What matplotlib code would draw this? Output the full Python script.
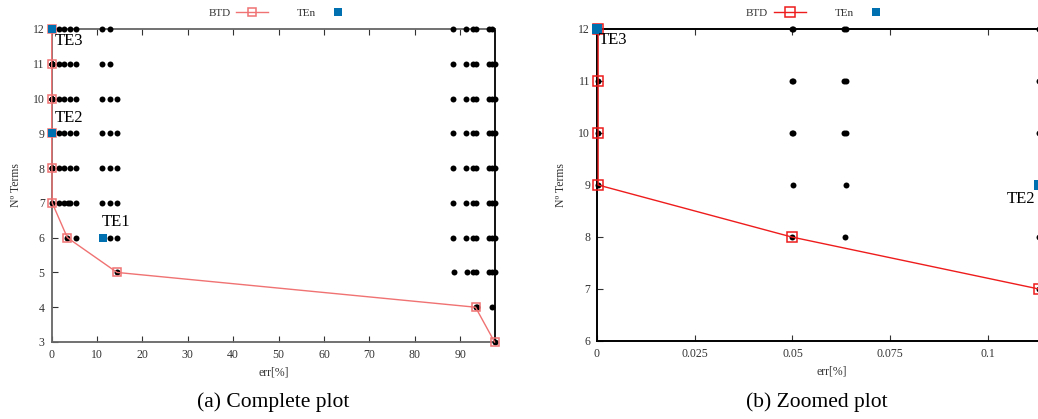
import matplotlib
matplotlib.use("Agg")
import matplotlib.pyplot as plt
from matplotlib.lines import Line2D

plt.rcParams['font.family'] = ['Liberation Serif', 'DejaVu Serif']

# ---------------- data ----------------
# BTD front (N terms vs err[%])
btd_terms = [12, 11, 10, 9, 8, 7, 6, 5, 4, 3]
btd_err = [0.0003, 0.0003, 0.0003, 0.0003, 0.0498, 0.113, 3.45, 14.4, 93.4, 97.6]

# TE points
te_labels = ["TE3", "TE2", "TE1"]
te_terms = [12, 9, 6]
te_err = [0.0, 0.113, 11.4]

# all evaluated solutions (black dots), per number of terms
dot_rows = [12, 11, 10, 9, 8, 7, 6, 5, 4, 3]
dot_err = [
    [0.0003, 0.0498, 0.0501, 0.0633, 0.0636, 0.113, 1.6, 2.8, 4.0, 5.3, 11.1, 12.8,
     88.5, 91.3, 92.9, 93.6, 96.4, 97.1],
    [0.0003, 0.0499, 0.0501, 0.0633, 0.0636, 0.113, 1.6, 2.8, 4.0, 5.3, 11.1, 12.8,
     88.5, 91.3, 92.9, 93.6, 96.4, 97.1, 97.6],
    [0.0003, 0.0499, 0.0501, 0.0633, 0.0636, 0.113, 1.6, 2.8, 4.0, 5.3, 11.1, 12.8, 14.4,
     88.5, 91.3, 92.9, 93.6, 96.4, 97.1, 97.6],
    [0.0003, 0.0502, 0.0636, 1.6, 2.8, 4.0, 5.3, 11.1, 12.8, 14.4,
     88.5, 91.3, 92.9, 93.6, 96.4, 97.1, 97.6],
    [0.0498, 0.0635, 0.113, 1.6, 2.8, 4.0, 5.3, 11.1, 12.8, 14.4,
     88.5, 91.3, 92.9, 93.6, 96.4, 97.1, 97.6],
    [0.113, 1.6, 2.8, 3.5, 4.0, 5.3, 11.1, 12.8, 14.4,
     88.5, 91.3, 92.9, 93.6, 96.4, 97.1, 97.6],
    [3.45, 5.3, 12.8, 14.4,
     88.5, 91.3, 92.9, 93.6, 96.4, 97.1, 97.6],
    [14.4, 88.7, 91.5, 92.9, 93.6, 96.4, 97.1, 97.6],
    [93.4, 93.8, 97.1],
    [97.6],
]

xticks_full = [0, 10, 20, 30, 40, 50, 60, 70, 80, 90]
yticks_full = [3, 4, 5, 6, 7, 8, 9, 10, 11, 12]
xticks_zoom = [0, 0.025, 0.05, 0.075, 0.1]
xticklabels_zoom = ["0", "0.025", "0.05", "0.075", "0.1"]
yticks_zoom = [6, 7, 8, 9, 10, 11, 12]

# ---------------- figure ----------------
fig = plt.figure(figsize=(10.38, 4.19), dpi=100)
axL = fig.add_axes([0.0498, 0.1838, 0.4271, 0.7470])
axR = fig.add_axes([0.5751, 0.1862, 0.4520, 0.7446])

BLUE = '#0070b0'


def draw(ax, red, spine_col, msq, lw_sp, te_offsets):
    dx, dy = [], []
    for t, errs in zip(dot_rows, dot_err):
        for e in errs:
            dx.append(e)
            dy.append(t)
    ax.plot(dx, dy, 'o', color='black', markersize=4.3, markeredgewidth=0,
            zorder=3, clip_on=False)
    ax.plot(btd_err, btd_terms, '-', color=red, lw=1.0, marker='s',
            markersize=msq, markerfacecolor='none', markeredgecolor=red,
            markeredgewidth=1.1, zorder=4, clip_on=False)
    ax.plot(te_err, te_terms, 's', color=BLUE, markersize=msq * 0.95,
            markeredgewidth=0, zorder=5, clip_on=False)
    for lab, e, t, off in zip(te_labels, te_err, te_terms, te_offsets):
        if off is None:
            continue
        ax.annotate(lab, (e, t), xytext=off, textcoords='offset points',
                    fontsize=12, ha='left', va='center', zorder=6,
                    annotation_clip=False)
    for s in ax.spines.values():
        s.set_color(spine_col)
        s.set_linewidth(lw_sp)
    ax.tick_params(direction='in', top=True, right=False, length=4,
                   labelsize=8.5, colors='#333333', pad=5)
    ax.set_xlabel('err[%]', fontsize=8.5, color='#333333', labelpad=4)
    ax.set_ylabel('Nº Terms', fontsize=8.5, color='#333333', labelpad=8)


draw(axL, '#f07272', '#666666', 6.0, 1.3,
     [(2, -9), (2, 11), (-1, 11)])
axL.set_xlim(0, 97.7)
axL.set_ylim(3, 12)
axL.set_xticks(xticks_full)
axL.set_yticks(yticks_full)
axL.spines['right'].set_color('black')

# zoomed panel
draw(axR, '#ee1c1c', 'black', 7.5, 1.4,
     [(1, -8), None, None])
axR.annotate(te_labels[1], (te_err[1], te_terms[1]), xytext=(-23, -10),
             textcoords='offset points', fontsize=12, ha='left', va='center',
             zorder=6, annotation_clip=False)
axR.set_xlim(0, 0.12)
axR.set_ylim(6, 12)
axR.set_xticks(xticks_zoom)
axR.set_xticklabels(xticklabels_zoom)
axR.set_yticks(yticks_zoom)

# legends (gnuplot style: text then sample)
def legend_for(red, msq, anchor):
    h1 = Line2D([], [], color=red, lw=1.0, marker='s', markersize=msq,
                markerfacecolor='none', markeredgecolor=red, markeredgewidth=1.1)
    h2 = Line2D([], [], color=BLUE, lw=0, marker='s', markersize=6,
                markeredgewidth=0)
    fig.legend([h1, h2], ['BTD', 'TEn'], loc='center', bbox_to_anchor=anchor,
               ncol=2, frameon=False, markerfirst=False, handlelength=2.9,
               handletextpad=0.5, columnspacing=2.6, fontsize=8,
               labelcolor='#333333')

legend_for('#f07272', 6.0, (0.271, 0.969))
legend_for('#ee1c1c', 7.5, (0.789, 0.969))

fig.text(0.263, 0.041, '(a) Complete plot', ha='center', va='center', fontsize=15.5)
fig.text(0.787, 0.041, '(b) Zoomed plot', ha='center', va='center', fontsize=15.5)

fig.savefig('out.png', dpi=100)
